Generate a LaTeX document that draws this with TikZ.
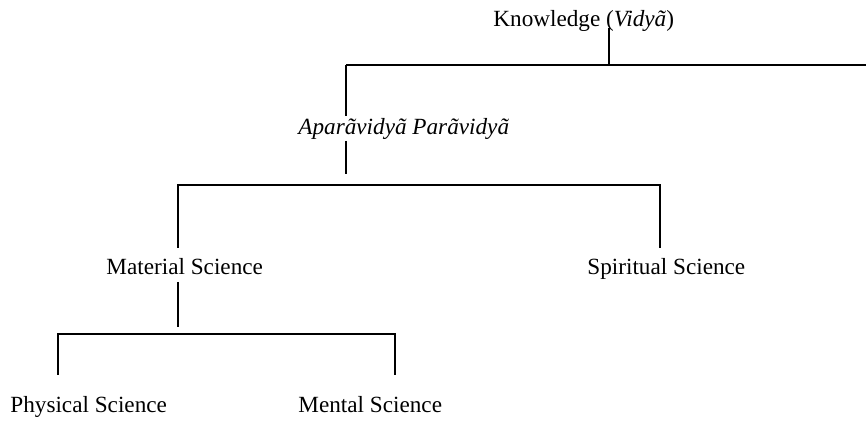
\documentclass[tikz,border=0pt]{standalone}
\usepackage{fontspec}
\setmainfont{Liberation Serif}
\begin{document}
\begin{tikzpicture}[x=0.5pt,y=-0.5pt,
  lbl/.style={inner sep=0pt,anchor=base west,font=\fontsize{11.6}{14}\selectfont},
  conn/.style={line width=0.65pt}]
\useasboundingbox (0,0) rectangle (866,421);
% text nodes
\node[lbl] (know) at (493,27) {Knowledge (\textit{Vidyã})};
\node[lbl] (apara) at (298,135) {\textit{Aparãvidyã Parãvidyã}};
\node[lbl] (mat) at (106,275) {Material Science};
\node[lbl] (spir) at (587,275) {Spiritual Science};
\node[lbl] (phys) at (10,413) {Physical Science};
\node[lbl] (ment) at (298,413) {Mental Science};
% junction coordinates
\coordinate (k0) at (609,28);
\coordinate (k1) at (609,65);
\coordinate (kl) at (346,65);
\coordinate (kr) at (866,65);
\coordinate (a0) at (346,116);
\coordinate (a1) at (346,141);
\coordinate (a2) at (346,174);
\coordinate (b1) at (346,185);
\coordinate (bl) at (178,185);
\coordinate (br) at (660,185);
\coordinate (bl2) at (178,248);
\coordinate (br2) at (660,248);
\coordinate (m0) at (178,282);
\coordinate (m1) at (178,327);
\coordinate (cl) at (58,334);
\coordinate (cr) at (395,334);
\coordinate (cl2) at (58,375);
\coordinate (cr2) at (395,375);
% connectors
\draw[conn] (k0) -- (k1);
\draw[conn] (kl) -- (kr);
\draw[conn] (kl) -- (a0);
\draw[conn] (a1) -- (a2);
\draw[conn] (bl2) -- (bl) -- (br) -- (br2);
\draw[conn] (m0) -- (m1);
\draw[conn] (cl2) -- (cl) -- (cr) -- (cr2);
\end{tikzpicture}
\end{document}
